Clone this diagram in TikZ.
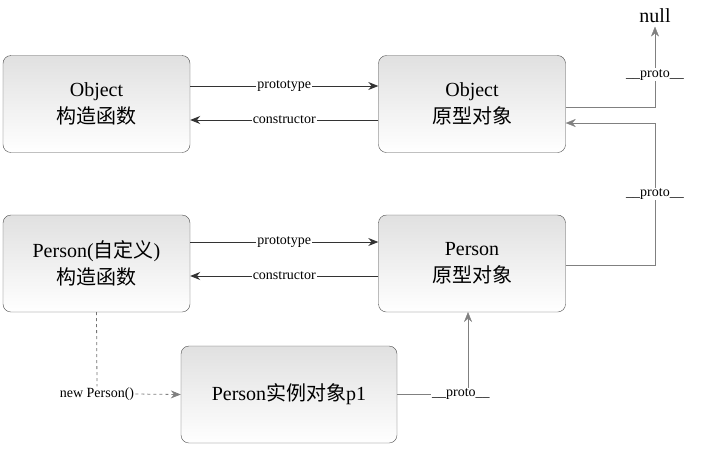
\documentclass[tikz,border=0pt]{standalone}
\usepackage{fontspec}
\setmainfont{Liberation Serif}
\newfontfamily\cjk{Noto Sans CJK SC}
\usetikzlibrary{positioning,arrows.meta}
\begin{document}
\begin{tikzpicture}[x=1pt,y=-1pt,
  objbox/.style={draw=black!70,rounded corners=8pt,top color=black!12,bottom color=white,
    minimum width=187pt,minimum height=97pt,align=center,font=\fontsize{20}{27}\selectfont},
  link/.style={-{Stealth[length=10pt,width=8pt]},thick,black!80},
  protolink/.style={-{Stealth[length=10pt,width=8pt]},black!50},
  lbl/.style={fill=white,inner sep=1pt,text=black,font=\fontsize{14}{15}\selectfont}]

\useasboundingbox (0,0) rectangle (711,451);

%% boxes
\node[objbox] (objcons) at (96.5,104) {Object\\{\cjk 构造函数}};
\node[objbox] (objproto) at (472,104) {Object\\{\cjk 原型对象}};
\node[objbox] (percons) at (96.5,263.5) {Person({\cjk 自定义})\\{\cjk 构造函数}};
\node[objbox] (perproto) at (472,263.5) {Person\\{\cjk 原型对象}};
\node[objbox,minimum width=216pt] (inst) at (289,394.5) {Person{\cjk 实例对象}p1};
\node[font=\fontsize{20}{22}\selectfont] (null) at (655,16) {null};

%% prototype / constructor
\draw[link] ([yshift=18pt]objcons.east) -- node[lbl]{prototype} ([yshift=18pt]objproto.west);
\draw[link] ([yshift=-16pt]objproto.west) -- node[lbl]{constructor} ([yshift=-16pt]objcons.east);
\draw[link] ([yshift=21.5pt]percons.east) -- node[lbl]{prototype} ([yshift=21.5pt]perproto.west);
\draw[link] ([yshift=-12.5pt]perproto.west) -- node[lbl]{constructor} ([yshift=-12.5pt]percons.east);

%% __proto__ chain
\coordinate (c3) at (655,123);
\coordinate (c4) at (468,312);
\draw[protolink] ([yshift=-3pt]objproto.east) -| node[lbl,pos=0.7]{\_\_proto\_\_} (null.south);
\draw[protolink] ([yshift=-1.5pt]perproto.east) -| node[lbl,pos=0.75]{\_\_proto\_\_} (c3) -- ([yshift=-19pt]objproto.east);
\draw[protolink] (inst.east) -| node[lbl,pos=0.45]{\_\_proto\_\_} (c4);

%% new
\node[lbl] (new) at (97,394) {new Person()};
\draw[dashed,black!55,thick] (percons.south) -- (new.north);
\draw[protolink,dashed,thick] (new.east) -- (inst.west);

\end{tikzpicture}
\end{document}
